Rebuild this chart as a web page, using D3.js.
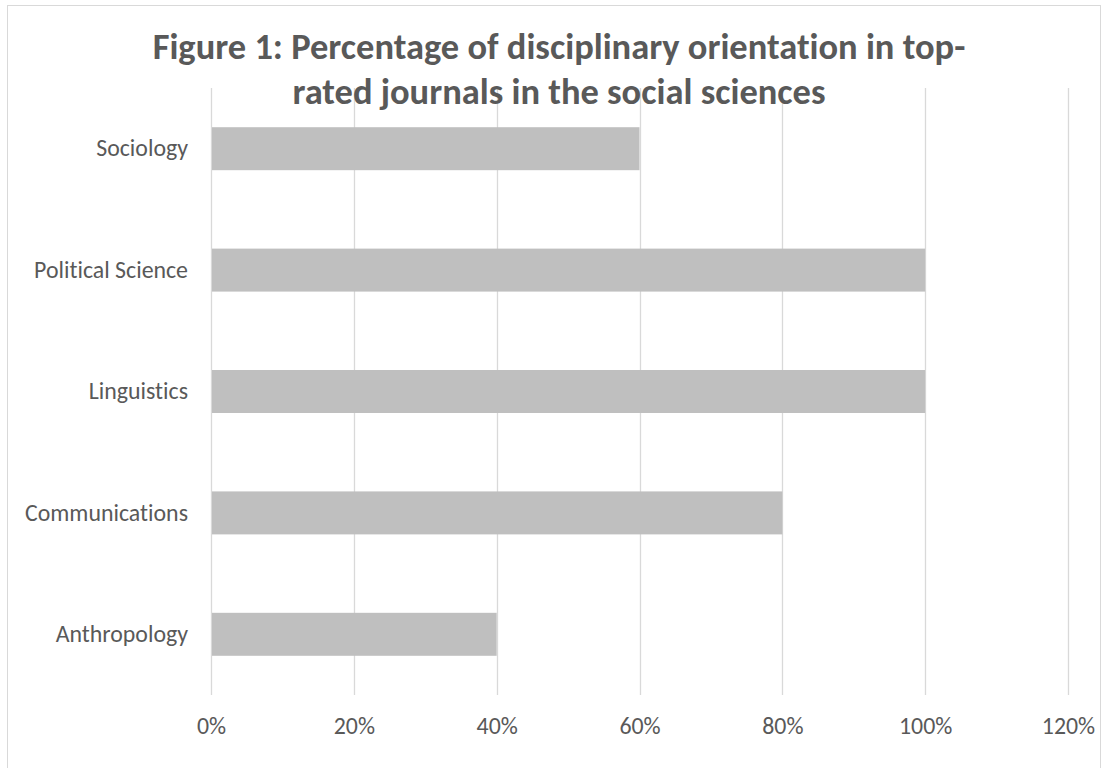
<!DOCTYPE html>
<html>
<head>
<meta charset="utf-8">
<script src="https://cdn.jsdelivr.net/npm/d3@7"></script>
<style>
  html, body { margin: 0; padding: 0; background: #fff; }
  svg { display: block; }
  text { font-family: Carlito, Lato, "Open Sans", sans-serif; font-variant-ligatures: none; }
</style>
</head>
<body>
<svg id="chart" width="1111" height="768"></svg>
<script>
const categories = ["Sociology", "Political Science", "Linguistics", "Communications", "Anthropology"];
const values = [0.60, 1.00, 1.00, 0.80, 0.40];
const tickValues = [0, 0.2, 0.4, 0.6, 0.8, 1.0, 1.2];
const titleLines = ["Figure 1: Percentage of disciplinary orientation in top-", "rated journals in the social sciences"];

const svg = d3.select("#chart");
const textColor = "#595959";
const gridColor = "#d9d9d9";
const barColor = "#bfbfbf";
const fontFam = 'Carlito, Lato, "Open Sans", sans-serif';

// chart border
svg.append("rect")
  .attr("x", 7.5).attr("y", 5.5)
  .attr("width", 1093).attr("height", 790)
  .attr("fill", "#fff").attr("stroke", gridColor).attr("stroke-width", 1);

const plot = { left: 211, right: 1068, top: 88, bottom: 695 };

const x = d3.scaleLinear().domain([0, 1.2]).range([plot.left, plot.right]);
const y = d3.scaleBand().domain(categories).range([plot.top, plot.bottom])
  .paddingInner(0.646).paddingOuter(0.323);

// gridlines
svg.append("g").selectAll("line").data(tickValues).join("line")
  .attr("x1", d => Math.round(x(d)) + 0.5).attr("x2", d => Math.round(x(d)) + 0.5)
  .attr("y1", plot.top).attr("y2", plot.bottom)
  .attr("stroke", gridColor).attr("stroke-width", 1.3);

// bars
svg.append("g").selectAll("rect").data(categories).join("rect")
  .attr("x", x(0) + 1)
  .attr("y", d => y(d))
  .attr("width", (d, i) => x(values[i]) - x(0) - 1)
  .attr("height", y.bandwidth())
  .attr("fill", barColor);

// helper: fit font size to target width
function fitSize(text, targetW, weight, base) {
  const t = svg.append("text").attr("font-size", base).attr("font-weight", weight).text(text);
  const w = t.node().getComputedTextLength();
  t.remove();
  return base * targetW / w;
}

const labelSize = fitSize("Political Science", 154, "normal", 16);

// x axis tick labels
const xAxis = d3.axisBottom(x).tickValues(tickValues).tickFormat(d3.format(".0%")).tickSize(0).tickPadding(0);
const gx = svg.append("g").attr("transform", `translate(0, ${plot.bottom})`).call(xAxis);
gx.select(".domain").remove();
gx.selectAll("text")
  .attr("y", 39).attr("dy", null)
  .attr("fill", textColor)
  .style("font-size", labelSize + "px")
  .style("font-family", fontFam);

// y axis category labels
const yAxis = d3.axisLeft(y).tickSize(0).tickPadding(0);
const gy = svg.append("g").attr("transform", `translate(188, 0)`).call(yAxis);
gy.select(".domain").remove();
gy.selectAll("text")
  .attr("fill", textColor)
  .style("font-size", labelSize + "px")
  .style("font-family", fontFam);

// title
const titleSize = fitSize(titleLines[0], 813, "bold", 28);
svg.append("g").selectAll("text").data(titleLines).join("text")
  .attr("x", 559)
  .attr("y", (d, i) => 59 + i * 45)
  .attr("text-anchor", "middle")
  .attr("font-weight", "bold")
  .attr("font-size", titleSize)
  .attr("fill", textColor)
  .text(d => d);
</script>
</body>
</html>
